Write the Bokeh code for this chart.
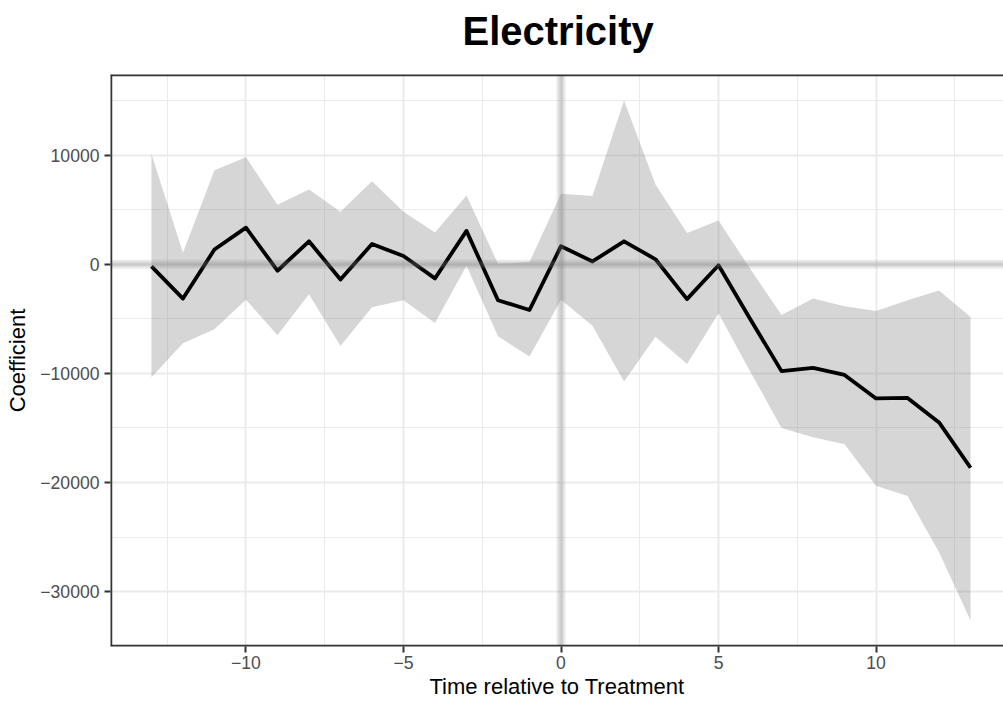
from bokeh.plotting import figure
from bokeh.models import Range1d, FixedTicker, Span, Title, ColumnDataSource
from bokeh.embed import file_html
from bokeh.resources import INLINE

# ---- data ----
time_rel = list(range(-13, 14))
coef = [-200, -3150, 1350, 3350, -600, 2100, -1400, 1850, 750, -1300, 3050, -3300, -4200,
        1650, 250, 2100, 450, -3200, -100, -5000, -9800, -9500, -10150, -12300, -12250, -14500, -18650]
upper = [10100, 1050, 8600, 9800, 5450, 6850, 4800, 7600, 4800, 2900, 6300, 50, 200,
         6450, 6250, 15000, 7300, 2850, 4000, -400, -4650, -3150, -3850, -4300, -3300, -2400, -4850]
lower = [-10350, -7250, -5950, -3250, -6500, -2750, -7500, -3950, -3300, -5400, -150, -6600, -8450,
         -3250, -5650, -10750, -6650, -9150, -4500, -9800, -15000, -15850, -16500, -20300, -21250, -26400, -32650]

x_ticks = [-10, -5, 0, 5, 10]
x_minor = [-12.5, -7.5, -2.5, 2.5, 7.5, 12.5]
y_ticks = [-30000, -20000, -10000, 0, 10000]
y_minor = [-25000, -15000, -5000, 5000, 15000]

def fmt(v):
    return str(v).replace("-", "\u2212")

src = ColumnDataSource(dict(t=time_rel, coef=coef, upper=upper, lower=lower))

# ---- layout ----
W, H = 1003, 701
LEFT, TOP, BOTTOM = 110, 74, 54
frame_w = W - LEFT

xmin, xmax = min(time_rel), max(time_rel)
xpad = 0.05 * (xmax - xmin)
x_start = xmin - xpad
full_w = 901.0  # panel width of the reference (extends past the window edge)
ppu = full_w / ((xmax - xmin) + 2 * xpad)
x_end = x_start + frame_w / ppu

ymin, ymax = min(lower), max(upper)
ypad = 0.05 * (ymax - ymin)
y_start, y_end = ymin - ypad, ymax + ypad

p = figure(width=W, height=H, output_backend="svg", toolbar_location=None,
           x_range=Range1d(x_start, x_end), y_range=Range1d(y_start, y_end),
           min_border_left=LEFT, min_border_right=0, min_border_top=TOP, min_border_bottom=BOTTOM)

p.background_fill_color = "white"
p.border_fill_color = "white"
p.outline_line_color = None

FONT = "Liberation Sans"

for ax, ticks, minor in ((p.xaxis[0], x_ticks, x_minor), (p.yaxis[0], y_ticks, y_minor)):
    ax.ticker = FixedTicker(ticks=ticks, minor_ticks=minor)
    ax.major_label_overrides = {v: fmt(v) for v in ticks}
    ax.axis_line_color = None
    ax.major_tick_line_color = "#333333"
    ax.major_tick_line_width = 2
    ax.major_tick_out = 6
    ax.major_tick_in = 0
    ax.minor_tick_line_color = None
    ax.major_label_text_font = FONT
    ax.major_label_text_font_size = "17.6px"
    ax.major_label_text_color = "#4D4D4D"
    ax.axis_label_text_font = FONT
    ax.axis_label_text_font_size = "22px"
    ax.axis_label_text_font_style = "normal"
    ax.axis_label_text_color = "black"

p.xaxis.axis_label = "Time relative to Treatment"
p.yaxis.axis_label = "Coefficient"
p.xaxis.major_label_standoff = 3
p.xaxis.axis_label_standoff = 2
p.yaxis.major_label_standoff = 5
p.yaxis.axis_label_standoff = 7

for g in (p.xgrid[0], p.ygrid[0]):
    g.grid_line_color = "#EBEBEB"
    g.grid_line_width = 2
    g.minor_grid_line_color = "#EBEBEB"
    g.minor_grid_line_width = 1

p.varea(x="t", y1="lower", y2="upper", source=src, fill_color="grey", fill_alpha=0.32)

# reference lines at 0 (soft outer band + darker core)
for dim in ("width", "height"):
    p.add_layout(Span(location=0, dimension=dim, line_color="grey", line_alpha=0.16, line_width=9))
    p.add_layout(Span(location=0, dimension=dim, line_color="grey", line_alpha=0.18, line_width=5))

p.line(x="t", y="coef", source=src, line_color="black", line_width=3.8, line_join="round")

# panel border (right edge lies beyond the window)
p.add_layout(Span(location=y_end, dimension="width", line_color="#333333", line_width=3.5))
p.add_layout(Span(location=y_start, dimension="width", line_color="#333333", line_width=3.5))
p.add_layout(Span(location=x_start, dimension="height", line_color="#333333", line_width=3.5))

# title: a small blank spacer next to the panel, then the title above it
p.title = None
p.add_layout(Title(text=" ", text_font=FONT, text_font_size="1px", standoff=19), "above")
p.add_layout(Title(text="Electricity", align="left", offset=352, text_font=FONT,
                   text_font_size="40px", text_font_style="bold", text_color="black",
                   vertical_align="bottom", standoff=0), "above")

open("out.html", "w").write(file_html(p, INLINE))
